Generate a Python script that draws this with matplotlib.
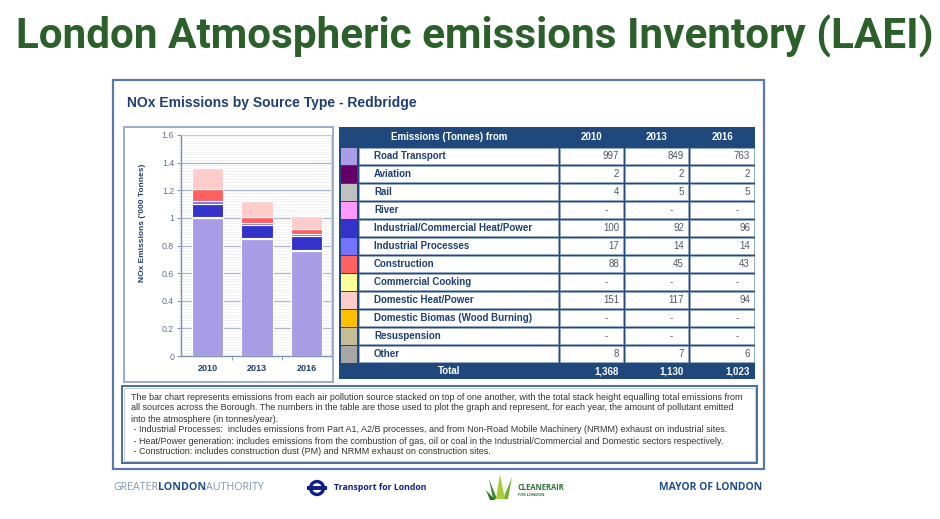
import matplotlib
matplotlib.use('Agg')
import matplotlib.pyplot as plt
from matplotlib.patches import Rectangle, Circle, Polygon
from matplotlib.ticker import MultipleLocator, FuncFormatter, FixedLocator

# data
years = ['2010', '2013', '2016']
sources = ['Road Transport', 'Aviation', 'Rail', 'River',
           'Industrial/Commercial Heat/Power', 'Industrial Processes',
           'Construction', 'Commercial Cooking', 'Domestic Heat/Power',
           'Domestic Biomas (Wood Burning)', 'Resuspension', 'Other']
v2010 = [997, 2, 4, None, 100, 17, 88, None, 151, None, None, 8]
v2013 = [849, 2, 5, None, 92, 14, 45, None, 117, None, None, 7]
v2016 = [763, 2, 5, None, 96, 14, 43, None, 94, None, None, 6]
totals = [1368, 1130, 1023]
colours = ['#a99de6', '#660066', '#c0c0c0', '#ff99ff', '#3333cc', '#7373ff',
           '#ff6161', '#ffff99', '#ffcccc', '#ffc000', '#c4bd97', '#a6a6a6']

notes = [
    "The bar chart represents emissions from each air pollution source stacked on top of one another, with the total stack height equalling total emissions from",
    "all sources across the Borough. The numbers in the table are those used to plot the graph and represent, for each year, the amount of pollutant emitted",
    "into the atmosphere (in tonnes/year).",
    " - Industrial Processes:  includes emissions from Part A1, A2/B processes, and from Non-Road Mobile Machinery (NRMM) exhaust on industrial sites.",
    " - Heat/Power generation: includes emissions from the combustion of gas, oil or coal in the Industrial/Commercial and Domestic sectors respectively.",
    " - Construction: includes construction dust (PM) and NRMM exhaust on construction sites.",
]

W, H = 940, 519
NAVY = '#1f3f73'
TBL = '#1f497d'
SANS = ['Liberation Sans', 'DejaVu Sans']
LOGO = ['Open Sans', 'DejaVu Sans']

fig = plt.figure(figsize=(9.4, 5.19), dpi=100)
bg = fig.add_axes([0, 0, 1, 1])
bg.set_xlim(0, W)
bg.set_ylim(H, 0)
bg.axis('off')
rend = fig.canvas.get_renderer()


def fit_text(x, y, s, width, **kw):
    t = bg.text(x, y, s, **kw)
    bb = t.get_window_extent(rend)
    t.set_fontsize(t.get_fontsize() * width / bb.width)
    return t


# main title
fit_text(475, 36, 'London Atmospheric emissions Inventory (LAEI)', 920,
         ha='center', va='center', fontsize=26, fontweight='bold',
         color='#2b602b', family=['Roboto', 'DejaVu Sans'])

# panel frames
bg.add_patch(Rectangle((113, 80), 651, 389, fill=False, ec='#5a78a8', lw=1.6))
bg.add_patch(Rectangle((124, 127), 209, 255, fill=False, ec='#9aaccb', lw=1.4))
bg.add_patch(Rectangle((122, 386), 635, 77, fill=False, ec='#3e5f94', lw=1.3))
bg.add_patch(Rectangle((124, 388), 631, 73, fill=False, ec='#b8c6dc', lw=0.6))
bg.text(127, 103, 'NOx Emissions by Source Type - Redbridge', ha='left', va='center',
        fontsize=10, fontweight='bold', color=NAVY, family=SANS)

# stacked bar chart
ax = fig.add_axes([181 / W, 1 - 356 / H, 150 / W, 221 / H])
xs = list(range(len(years)))
bottoms = [0.0] * len(years)
for i, src in enumerate(sources):
    vals = [(v[i] or 0) / 1000 for v in (v2010, v2013, v2016)]
    ax.bar(xs, vals, bottom=bottoms, width=0.63, color=colours[i],
           edgecolor='white', linewidth=0.8, zorder=3)
    bottoms = [b + v for b, v in zip(bottoms, vals)]
ax.set_xlim(-0.535, 2.495)
ax.set_ylim(0, 1.6)
ax.yaxis.set_major_locator(MultipleLocator(0.2))
ax.yaxis.set_minor_locator(MultipleLocator(0.02))
ax.yaxis.set_major_formatter(FuncFormatter(lambda v, _: f'{v:g}'))
ax.grid(which='minor', axis='y', color='#e8e8e8', lw=0.4, zorder=0)
ax.grid(which='major', axis='y', color='#a9b6cc', lw=0.9, zorder=0)
ax.set_axisbelow(True)
ax.set_xticks(xs)
ax.set_xticklabels(years, fontweight='bold', fontsize=6.5, color=NAVY, family=SANS)
ax.xaxis.set_minor_locator(FixedLocator([0.5, 1.5]))
ax.tick_params(axis='x', which='major', length=0, pad=6)
ax.tick_params(axis='x', which='minor', length=3, color='#8093b3')
ax.tick_params(axis='y', which='major', length=3, color='#8093b3', labelsize=6.3,
               labelcolor='#607090', pad=2)
ax.tick_params(axis='y', which='minor', length=1.5, width=0.4, color='#b0bdd2')
for lab in ax.get_yticklabels():
    lab.set_family(SANS)
for side in ('left', 'bottom'):
    ax.spines[side].set_color('#8093b3')
    ax.spines[side].set_linewidth(1.0)
for side in ('right', 'top'):
    ax.spines[side].set_color('#cccccc')
    ax.spines[side].set_linewidth(0.6)
bg.text(142, 223, "NOx Emissions ('000 Tonnes)", rotation=90, ha='center', va='center',
        fontsize=6, fontweight='bold', color=NAVY, family=SANS)

# table
cols = [339, 358, 559, 624, 689, 755]
top, head_h, row_h = 127, 20, 18
n = len(sources)
tbl_bot = top + head_h + n * row_h + 16
bg.add_patch(Rectangle((cols[0], top), cols[-1] - cols[0], tbl_bot - top,
                       fc=TBL, ec='none'))
bg.text((cols[0] + cols[2]) / 2, top + head_h / 2, 'Emissions (Tonnes) from',
        ha='center', va='center', fontsize=7, fontweight='bold', color='white', family=SANS)
for j, yr in enumerate(years):
    bg.text((cols[2 + j] + cols[3 + j]) / 2, top + head_h / 2, yr, ha='center',
            va='center', fontsize=7, fontweight='bold', color='white', family=SANS)
for i, src in enumerate(sources):
    y0 = top + head_h + i * row_h
    bg.add_patch(Rectangle((cols[0] + 2, y0 + 1), cols[1] - cols[0] - 3, row_h - 1.5,
                           fc=colours[i], ec='none'))
    for c in range(1, 5):
        bg.add_patch(Rectangle((cols[c] + 0.8, y0 + 0.8), cols[c + 1] - cols[c] - 1.6,
                               row_h - 1.6, fc='white', ec='#9fb0cc', lw=0.4))
    bg.text(374, y0 + row_h / 2, src, ha='left', va='center', fontsize=7,
            fontweight='bold', color=NAVY, family=SANS)
    for j, v in enumerate((v2010, v2013, v2016)):
        right = cols[3 + j]
        if v[i] is None:
            bg.text(right - 18, y0 + row_h / 2, '-', ha='center', va='center',
                    fontsize=7, color='#4d5566', family=SANS)
        else:
            bg.text(right - 5, y0 + row_h / 2, f'{v[i]:,}', ha='right', va='center',
                    fontsize=7, color='#4d5566', family=SANS)
ty = top + head_h + n * row_h + 8
bg.text((cols[0] + cols[2]) / 2, ty, 'Total', ha='center', va='center', fontsize=7,
        fontweight='bold', color='white', family=SANS)
for j, t in enumerate(totals):
    bg.text(cols[3 + j] - 5, ty, f'{t:,}', ha='right', va='center', fontsize=7,
            fontweight='bold', color='white', family=SANS)

# footnote
first = fit_text(131, 397, notes[0], 621, ha='left', va='center', fontsize=6,
                 color='#333333', family=SANS)
for k, line in enumerate(notes[1:], start=1):
    bg.text(131, 397 + k * 11, line, ha='left', va='center',
            fontsize=first.get_fontsize(), color='#333333', family=SANS)

# logos
xpos = 113
for part, wt, col in (('GREATER', 'normal', '#7f96b8'), ('LONDON', 'bold', '#1f4e8c'),
                      ('AUTHORITY', 'normal', '#7f96b8')):
    t = bg.text(xpos, 488, part, ha='left', va='center', fontsize=7.7, fontweight=wt,
                color=col, family=LOGO)
    xpos += t.get_window_extent(rend).width
bg.add_patch(Circle((317, 488), 6.5, fill=False, ec='#10208a', lw=2.4))
bg.add_patch(Rectangle((307, 486), 20, 4, fc='#10208a', ec='none'))
bg.text(334, 488, 'Transport for London', ha='left', va='center', fontsize=6.3,
        fontweight='bold', color='#10208a', family=LOGO)
for pts, c in (([(489, 479), (497, 499), (493, 499)], '#3c8a2e'),
               ([(512, 477), (503, 499), (508, 499)], '#6fb52c'),
               ([(500, 474), (496, 499), (505, 499)], '#a6cf38'),
               ([(486, 490), (495, 500), (490, 500)], '#2f6f2a')):
    bg.add_patch(Polygon(pts, closed=True, fc=c, ec='none'))
bg.text(518, 488, 'CLEANERAIR', ha='left', va='center', fontsize=5.5, fontweight='bold',
        color='#2f6f3a', family=LOGO)
bg.text(518, 495, 'FOR LONDON', ha='left', va='center', fontsize=2.8, fontweight='bold',
        color='#2f6f3a', family=LOGO)
bg.text(762, 488, 'MAYOR OF LONDON', ha='right', va='center', fontsize=7.5,
        fontweight='bold', color='#1f4e8c', family=LOGO)

fig.savefig('out.png', dpi=100)
